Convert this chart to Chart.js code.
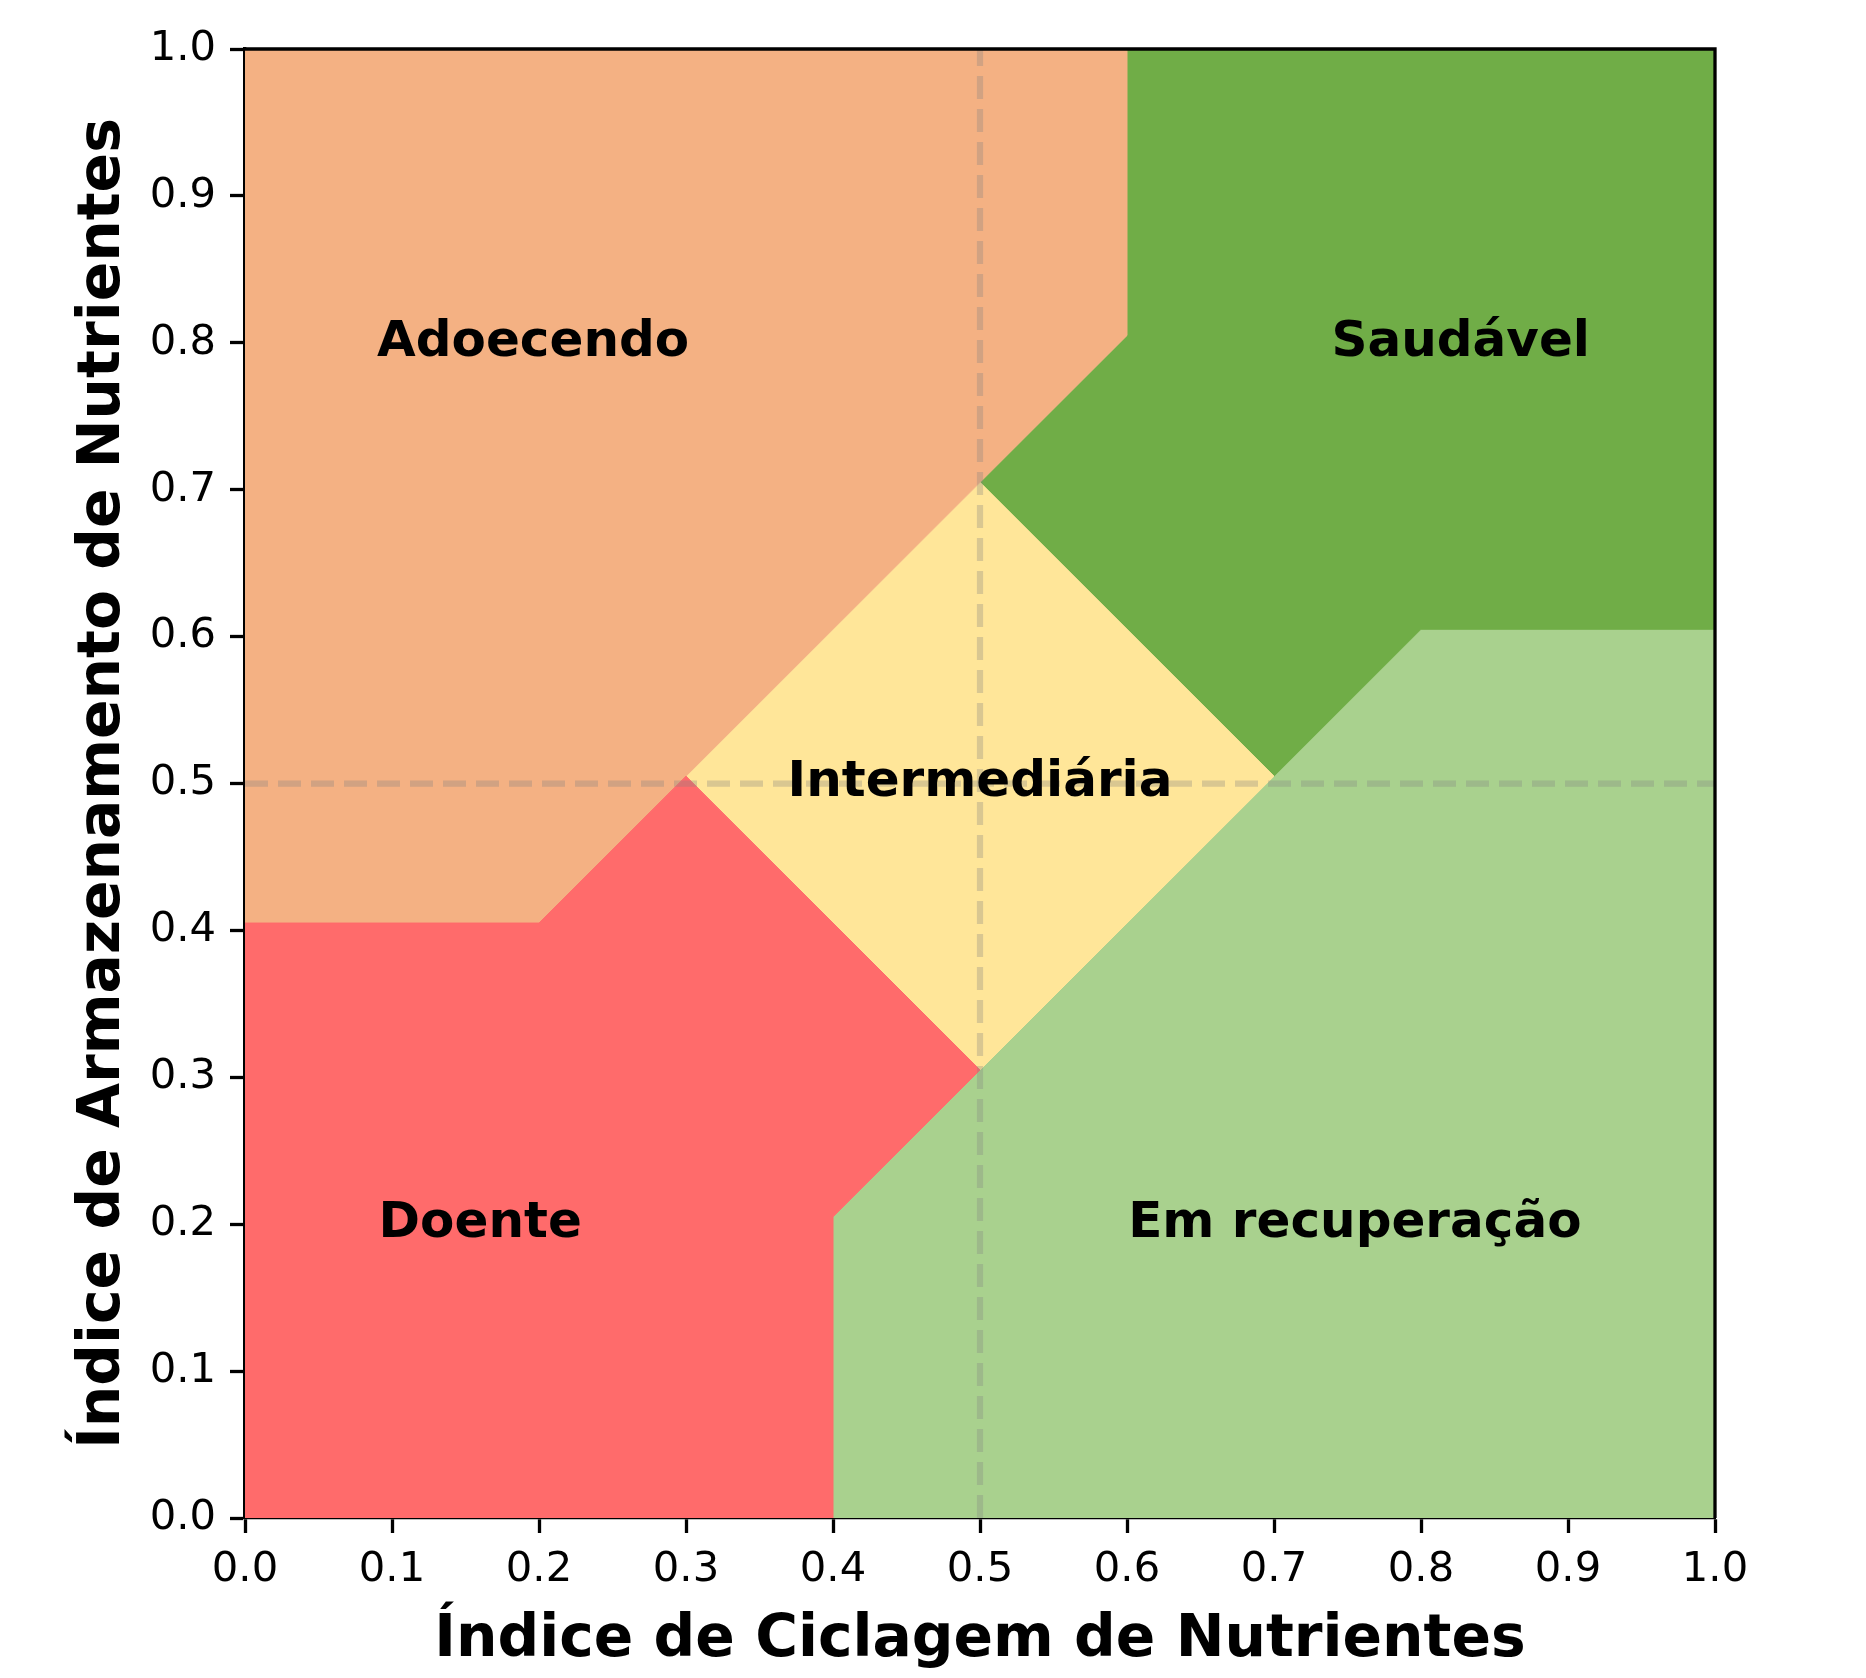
<!DOCTYPE html>
<html>
<head>
<meta charset="utf-8">
<script src="https://cdn.jsdelivr.net/npm/chart.js@4/dist/chart.umd.min.js"></script>
<style>
  html, body { margin: 0; padding: 0; background: #fff; }
  #wrap { width: 1866px; height: 1678px; }
</style>
</head>
<body>
<div id="wrap"><canvas id="c" width="1866" height="1678"></canvas></div>
<script>
// ---- Data ----
const regionNames = ['Doente', 'Adoecendo', 'Intermediária', 'Saudável', 'Em recuperação'];
const regionColors = ['#FF6B6B', '#F4B183', '#FFE699', '#70AD47', '#A9D18E'];

const doenteX = [0, 0.4, 0.4, 0.5, 0.3, 0.2, 0];
const doenteY = [0, 0, 0.205, 0.305, 0.505, 0.405, 0.405];

const adoecendoX = [0, 0.2, 0.3, 0.5, 0.6, 0.6, 0];
const adoecendoY = [0.405, 0.405, 0.505, 0.705, 0.805, 1, 1];

const intermediariaX = [0.3, 0.5, 0.7, 0.5];
const intermediariaY = [0.505, 0.705, 0.505, 0.305];

const saudavelX = [0.6, 1, 1, 0.8, 0.7, 0.5, 0.6];
const saudavelY = [1, 1, 0.605, 0.605, 0.505, 0.705, 0.805];

const recuperacaoX = [0.4, 1, 1, 0.8, 0.7, 0.5, 0.4];
const recuperacaoY = [0, 0, 0.605, 0.605, 0.505, 0.305, 0.205];

const labelX = [0.16, 0.196, 0.5, 0.827, 0.755];
const labelY = [0.2, 0.8, 0.5, 0.8, 0.2];

const refLineValue = 0.5;
const axisMin = 0, axisMax = 1, tickStep = 0.1;

const xTitle = 'Índice de Ciclagem de Nutrientes';
const yTitle = 'Índice de Armazenamento de Nutrientes';

// ---- Build ----
function pts(xs, ys) { return xs.map((x, i) => ({ x: x, y: ys[i] })); }
const regionXs = [doenteX, adoecendoX, intermediariaX, saudavelX, recuperacaoX];
const regionYs = [doenteY, adoecendoY, intermediariaY, saudavelY, recuperacaoY];

const datasets = [];
datasets.push({
  label: 'vline', data: [{x: refLineValue, y: axisMin}, {x: refLineValue, y: axisMax}],
  showLine: true, borderColor: 'rgba(128,128,128,0.3)', borderWidth: 6.25,
  borderDash: [23, 10], pointRadius: 0, fill: false, order: 0
});
datasets.push({
  label: 'hline', data: [{x: axisMin, y: refLineValue}, {x: axisMax, y: refLineValue}],
  showLine: true, borderColor: 'rgba(128,128,128,0.3)', borderWidth: 6.25,
  borderDash: [23, 10], pointRadius: 0, fill: false, order: 0
});
regionNames.forEach((n, i) => {
  const d = pts(regionXs[i], regionYs[i]);
  d.push({ x: regionXs[i][0], y: regionYs[i][0] });
  datasets.push({
    label: n, data: d, showLine: true, fill: 'shape',
    backgroundColor: regionColors[i], borderColor: regionColors[i], borderWidth: 1,
    pointRadius: 0, tension: 0, order: 1
  });
});

const frame = {
  id: 'frame',
  afterDatasetsDraw(chart) {
    const ctx = chart.ctx;
    const xs = chart.scales.x, ys = chart.scales.y;
    ctx.save();
    ctx.fillStyle = '#000';
    ctx.font = 'bold 50px "DejaVu Sans"';
    ctx.textAlign = 'center';
    ctx.textBaseline = 'middle';
    regionNames.forEach((n, i) => {
      ctx.fillText(n, xs.getPixelForValue(labelX[i]), ys.getPixelForValue(labelY[i]));
    });
    const a = chart.chartArea;
    ctx.strokeStyle = '#000';
    ctx.lineWidth = 3.3;
    ctx.beginPath();
    ctx.moveTo(a.left, a.top); ctx.lineTo(a.right, a.top); ctx.lineTo(a.right, a.bottom);
    ctx.stroke();
    ctx.restore();
  }
};

const tickFont = { family: 'DejaVu Sans', size: 41.7 };
const titleFont = { family: 'DejaVu Sans', size: 58.3, weight: 'bold' };

new Chart(document.getElementById('c'), {
  type: 'scatter',
  data: { datasets: datasets },
  options: {
    responsive: false,
    animation: false,
    layout: { padding: { top: 49, right: 151, bottom: 0, left: 0 } },
    plugins: { legend: { display: false }, tooltip: { enabled: false } },
    scales: {
      x: {
        type: 'linear', min: axisMin, max: axisMax,
        ticks: { stepSize: tickStep, color: '#000', font: tickFont, padding: 12,
                 callback: v => Number(v).toFixed(1), maxRotation: 0 },
        grid: { drawOnChartArea: false, drawTicks: true, tickLength: 15, tickWidth: 3.3, tickColor: '#000' },
        border: { display: true, color: '#000', width: 3.3 },
        title: { display: true, text: xTitle, color: '#000', font: titleFont, padding: { top: 0, bottom: 2 } },
        afterFit(s) { s.height = 160; }
      },
      y: {
        type: 'linear', min: axisMin, max: axisMax,
        ticks: { stepSize: tickStep, color: '#000', font: tickFont, padding: 14,
                 callback: v => Number(v).toFixed(1) },
        grid: { drawOnChartArea: false, drawTicks: true, tickLength: 15, tickWidth: 3.3, tickColor: '#000' },
        border: { display: true, color: '#000', width: 3.3 },
        title: { display: true, text: yTitle, color: '#000', font: titleFont, padding: { top: 69, bottom: 0 } },
        afterFit(s) { s.width = 245; }
      }
    }
  },
  plugins: [frame]
});
</script>
</body>
</html>
